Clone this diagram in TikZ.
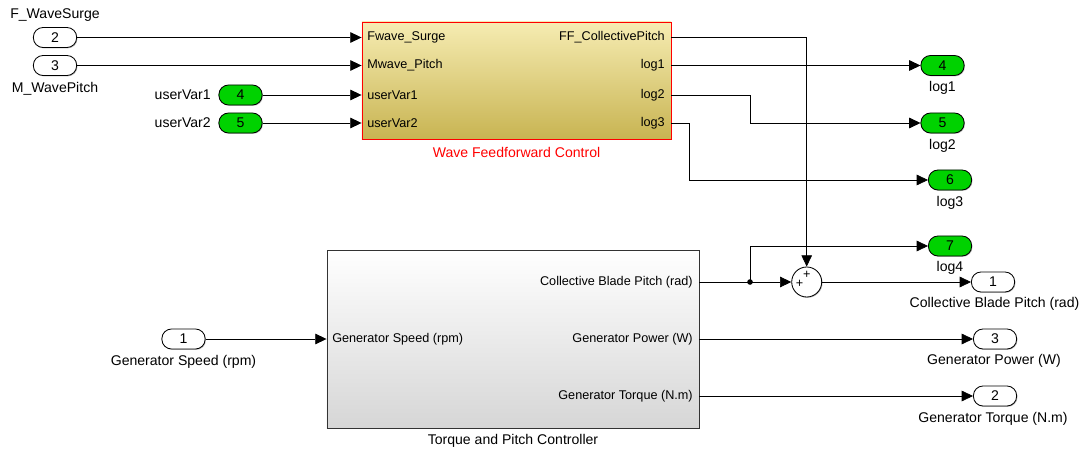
\documentclass[tikz,border=0pt]{standalone}
\usepackage{fontspec}
\setmainfont{Liberation Sans}
\usetikzlibrary{arrows.meta,shadows}

\definecolor{simgreen}{RGB}{0,210,0}
\definecolor{wfftop}{RGB}{246,236,178}
\definecolor{wffbot}{RGB}{200,180,82}
\definecolor{tpcbot}{RGB}{214,214,214}

\tikzset{
	port/.style={draw=black,line width=0.6pt,fill=white,rounded corners=2.4mm,minimum width=1.08cm,minimum height=0.5cm,inner sep=0pt,font=\fontsize{10}{12}\selectfont,drop shadow={shadow xshift=0.6pt,shadow yshift=-0.6pt,fill=black!50,opacity=0.5}},
	gport/.style={port,fill=simgreen},
	lbl/.style={inner sep=0pt,font=\fontsize{10}{12}\selectfont},
	plbl/.style={inner sep=0pt,font=\fontsize{9}{11}\selectfont},
	sig/.style={draw=black,line width=0.5pt,-{Triangle[length=8pt,width=7.5pt]}},
	wire/.style={draw=black,line width=0.5pt},
}

\begin{document}
\begin{tikzpicture}[x=0.025cm,y=-0.025cm]
	\useasboundingbox (0,0) rectangle (1083,452);

	\node[draw=red,line width=0.6pt,top color=wfftop,bottom color=wffbot,minimum width=7.725cm,minimum height=2.925cm,drop shadow={shadow xshift=1pt,shadow yshift=-1pt,fill=black!50,opacity=0.5}] (wff) at (516.5,80.5) {};
	\node[lbl,text=red] (wffname) at (516.5,152) {Wave Feedforward Control};
	\node[plbl,anchor=west] (iFs) at (367,37.5) {Fwave\_Surge};
	\node[plbl,anchor=west] (iMp) at (367,65.5) {Mwave\_Pitch};
	\node[plbl,anchor=west] (iU1) at (367,95) {userVar1};
	\node[plbl,anchor=west] (iU2) at (367,123) {userVar2};
	\node[plbl,anchor=east] (oFF) at (665,37.5) {FF\_CollectivePitch};
	\node[plbl,anchor=east] (oL1) at (665,65.5) {log1};
	\node[plbl,anchor=east] (oL2) at (665,95) {log2};
	\node[plbl,anchor=east] (oL3) at (665,123) {log3};

	\node[draw=black!80,line width=0.6pt,top color=white,bottom color=tpcbot,minimum width=9.3cm,minimum height=4.45cm,drop shadow={shadow xshift=1pt,shadow yshift=-1pt,fill=black!50,opacity=0.5}] (tpc) at (513,339) {};
	\node[lbl] (tpcname) at (513,441) {Torque and Pitch Controller};
	\node[plbl,anchor=west] (iGS) at (332,339) {Generator Speed (rpm)};
	\node[plbl,anchor=east] (oCBP) at (693,282) {Collective Blade Pitch (rad)};
	\node[plbl,anchor=east] (oGP) at (693,339) {Generator Power (W)};
	\node[plbl,anchor=east] (oGT) at (693,396) {Generator Torque (N.m)};

	\node[port] (inS) at (55,37.5) {2};
	\node[lbl] (inSname) at (55,15) {F\_WaveSurge};
	\node[port] (inP) at (55,65.5) {3};
	\node[lbl] (inPname) at (55,89) {M\_WavePitch};
	\node[gport] (inU1) at (240.5,95) {4};
	\node[lbl,anchor=east] (inU1name) at (211,95) {userVar1};
	\node[gport] (inU2) at (240.5,123) {5};
	\node[lbl,anchor=east] (inU2name) at (211,123) {userVar2};
	\node[port] (inGS) at (183.5,339) {1};
	\node[lbl] (inGSname) at (183.5,362) {Generator Speed (rpm)};

	\node[gport] (gL1) at (942.5,65.5) {4};
	\node[lbl] (gL1name) at (942.5,88) {log1};
	\node[gport] (gL2) at (942.5,123) {5};
	\node[lbl] (gL2name) at (942.5,146) {log2};
	\node[gport] (gL3) at (950,180) {6};
	\node[lbl] (gL3name) at (950,203) {log3};
	\node[gport] (gL4) at (950,246) {7};
	\node[lbl] (gL4name) at (950,268) {log4};
	\node[port] (outCBP) at (993,282) {1};
	\node[lbl] (outCBPname) at (994.5,304) {Collective Blade Pitch (rad)};
	\node[port] (outGP) at (995,339) {3};
	\node[lbl] (outGPname) at (994,361) {Generator Power (W)};
	\node[port] (outGT) at (995,396) {2};
	\node[lbl] (outGTname) at (993,419) {Generator Torque (N.m)};

	\node[draw=black,line width=0.6pt,fill=white,circle,minimum size=0.75cm,inner sep=0pt,drop shadow={shadow xshift=0.6pt,shadow yshift=-0.6pt,fill=black!50,opacity=0.5}] (sum) at (806.7,282) {};
	\node[inner sep=0pt,font=\fontsize{9}{9}\selectfont] (sumtop) at (806.7,274.5) {+};
	\node[inner sep=0pt,font=\fontsize{9}{9}\selectfont] (sumleft) at (799.5,283.5) {+};

	\coordinate (k2) at (750,0);
	\coordinate (k3) at (689,0);
	\coordinate (br) at (750,282);

	\draw[sig] (inS) -- (inS -| wff.west);
	\draw[sig] (inP) -- (inP -| wff.west);
	\draw[sig] (inU1) -- (inU1 -| wff.west);
	\draw[sig] (inU2) -- (inU2 -| wff.west);
	\draw[sig] (wff.east |- oFF) -| (sum.north);
	\draw[sig] (wff.east |- oL1) -- (gL1);
	\draw[sig] (wff.east |- oL2) -| (k2 |- gL2) -- (gL2);
	\draw[sig] (wff.east |- oL3) -| (k3 |- gL3) -- (gL3);

	\draw[sig] (inGS) -- (inGS -| tpc.west);
	\draw[wire] (tpc.east |- oCBP) -- (br);
	\draw[sig] (br) -- (sum.west);
	\draw[sig] (br) |- (gL4);
	\fill[black] (br) circle (2pt);
	\draw[sig] (sum.east) -- (outCBP);
	\draw[sig] (tpc.east |- oGP) -- (outGP);
	\draw[sig] (tpc.east |- oGT) -- (outGT);
\end{tikzpicture}
\end{document}
